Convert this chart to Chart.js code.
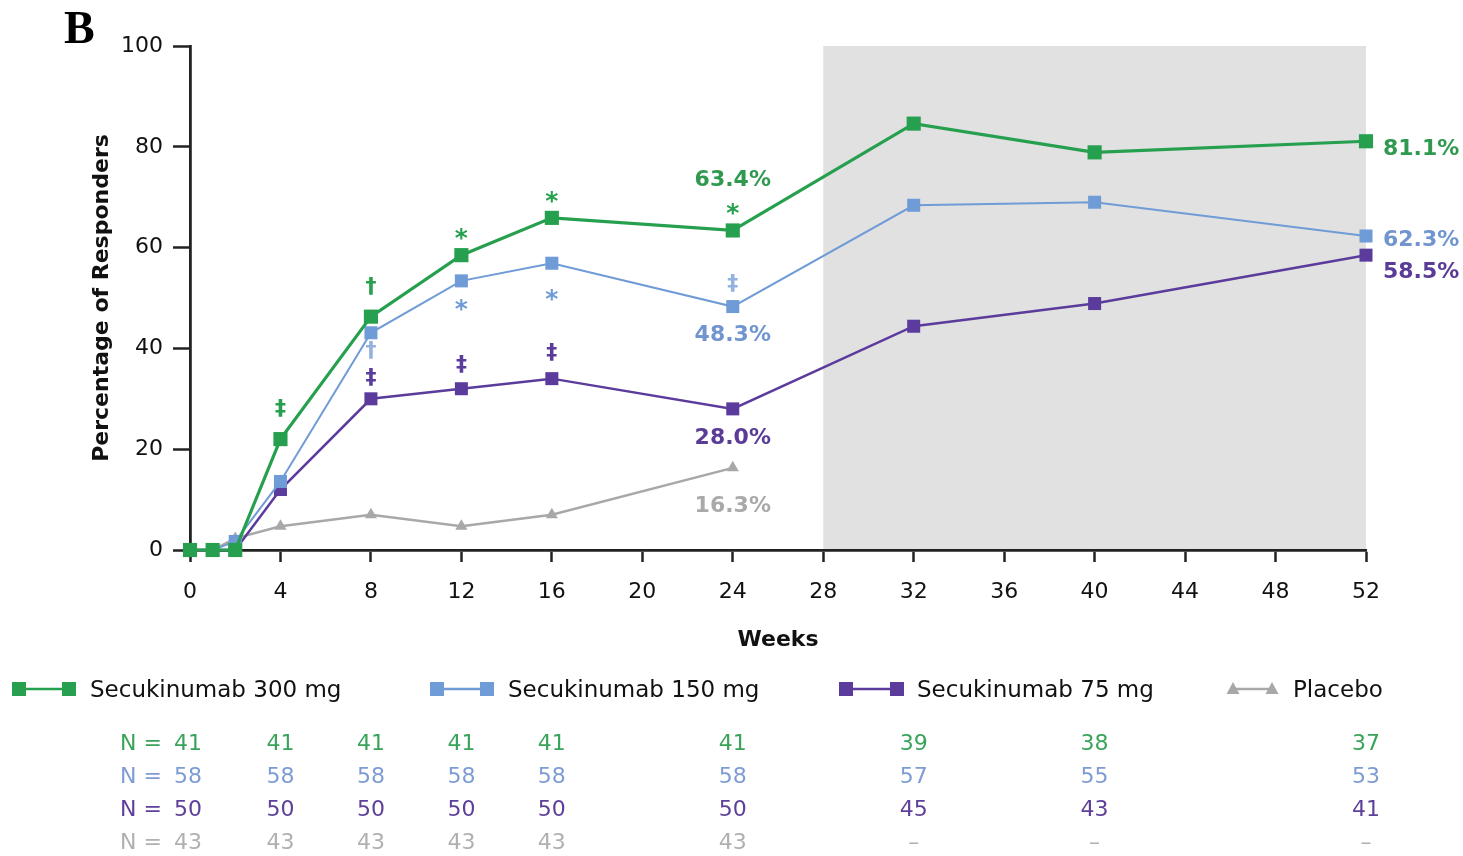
<!DOCTYPE html>
<html>
<head>
<meta charset="utf-8">
<script src="https://cdn.jsdelivr.net/npm/chart.js@4.4.1/dist/chart.umd.min.js"></script>
<style>
  html, body { margin: 0; padding: 0; background: #fff; }
  canvas { display: block; }
</style>
</head>
<body>
<canvas id="chart" width="1463" height="856"></canvas>
<script>
// Visit weeks and response rates (%) per treatment arm
const weeks        = [0, 1, 2, 4, 8, 12, 16, 24, 32, 40, 52];
const placeboWeeks = [0, 1, 2, 4, 8, 12, 16, 24];
const sec300  = [0, 0, 0,   22.0, 46.3, 58.5, 65.9, 63.4, 84.6, 78.9, 81.1];
const sec150  = [0, 0, 1.7, 13.6, 43.1, 53.4, 56.9, 48.3, 68.4, 69.0, 62.3];
const sec75   = [0, 0, 0,   12.0, 30.0, 32.0, 34.0, 28.0, 44.4, 48.9, 58.5];
const placebo = [0, 0, 2.3,  4.7,  7.0,  4.7,  7.0, 16.3];
const seriesNames = ['Secukinumab 300 mg', 'Secukinumab 150 mg', 'Secukinumab 75 mg', 'Placebo'];

// Axis ranges
const weekRange = [0, 52];
const weekStep = 4;
const pctRange = [0, 100];
const pctStep = 20;
const extensionStartWeek = 28;

// Patients at risk per visit
const nWeeks    = [0, 4, 8, 12, 16, 24, 32, 40, 52];
const n300      = [41, 41, 41, 41, 41, 41, 39, 38, 37];
const n150      = [58, 58, 58, 58, 58, 58, 57, 55, 53];
const n75       = [50, 50, 50, 50, 50, 50, 45, 43, 41];
const nPlacebo  = [43, 43, 43, 43, 43, 43, null, null, null];

// Significance marks versus placebo: [series index, week, symbol]
const sigMarks = [
  [0, 4, '‡'], [0, 8, '†'], [1, 8, '†'], [2, 8, '‡'],
  [0, 12, '*'], [1, 12, '*'], [2, 12, '‡'],
  [0, 16, '*'], [1, 16, '*'], [2, 16, '‡'],
  [0, 24, '*'], [1, 24, '‡']
];

const COLORS = ['#26a04e', '#6f9bd6', '#5b3b9c', '#a8a8a8'];
const TEXT_COLORS = ['#2f9a4f', '#7196cf', '#5a3c98', '#a9a9a9'];
const FONT = '"DejaVu Sans", "Liberation Sans", Arial, sans-serif';

const seriesData = [sec300, sec150, sec75, placebo];
const seriesWeeks = [weeks, weeks, weeks, placeboWeeks];

function toPoints(ws, vs) { return ws.map((w, i) => ({ x: w, y: vs[i] })); }

const lineStyles = [
  { borderWidth: 3.2, pointStyle: 'rect',     pointRadius: 10 },
  { borderWidth: 2,   pointStyle: 'rect',     pointRadius: 9.2 },
  { borderWidth: 2.5, pointStyle: 'rect',     pointRadius: 9.2 },
  { borderWidth: 2.5, pointStyle: 'triangle', pointRadius: 7 }
];

const datasets = seriesNames.map((name, i) => ({
  label: name,
  data: toPoints(seriesWeeks[i], seriesData[i]),
  borderColor: COLORS[i],
  backgroundColor: COLORS[i],
  pointBackgroundColor: COLORS[i],
  pointBorderColor: COLORS[i],
  pointBorderWidth: 0,
  borderWidth: lineStyles[i].borderWidth,
  pointStyle: lineStyles[i].pointStyle,
  pointRadius: lineStyles[i].pointRadius,
  pointHoverRadius: lineStyles[i].pointRadius,
  tension: 0,
  clip: false
}));

// text helper: vertically centred on the glyph, not the em box
function text(ctx, str, x, yCenter, font, size, color, align, ratio) {
  ctx.save();
  ctx.font = font.replace('SIZE', size + 'px');
  ctx.fillStyle = color;
  ctx.textAlign = align || 'center';
  ctx.textBaseline = 'alphabetic';
  ctx.fillText(str, x, yCenter + size * (ratio === undefined ? 0.365 : ratio));
  ctx.restore();
}

const backdrop = {
  id: 'backdrop',
  beforeDraw(chart) {
    const { ctx, scales: { x, y } } = chart;
    ctx.save();
    ctx.fillStyle = '#ffffff';
    ctx.fillRect(0, 0, chart.width, chart.height);
    const x1 = x.getPixelForValue(extensionStartWeek);
    const x2 = x.getPixelForValue(weekRange[1]);
    const y1 = y.getPixelForValue(pctRange[1]);
    const y2 = y.getPixelForValue(pctRange[0]);
    ctx.fillStyle = '#e1e1e1';
    ctx.fillRect(x1, y1, x2 - x1, y2 - y1);
    ctx.restore();
  }
};

const decorations = {
  id: 'decorations',
  afterDraw(chart) {
    const { ctx, scales: { x, y } } = chart;
    const px = w => x.getPixelForValue(w);
    const py = v => y.getPixelForValue(v);
    const valueAt = (s, w) => seriesData[s][seriesWeeks[s].indexOf(w)];

    // panel letter
    text(ctx, 'B', 64, 28, 'bold SIZE "Liberation Serif", "Times New Roman", serif', 46, '#000', 'left', 0.33);

    // axis titles
    ctx.save();
    ctx.translate(100, (py(pctRange[0]) + py(pctRange[1])) / 2);
    ctx.rotate(-Math.PI / 2);
    text(ctx, 'Percentage of Responders', 0, 0, 'bold SIZE ' + FONT, 22, '#111', 'center');
    ctx.restore();
    text(ctx, 'Weeks', (px(weekRange[0]) + px(weekRange[1])) / 2, 638, 'bold SIZE ' + FONT, 22, '#111', 'center');

    // significance symbols
    const symOffset = {
      '0|4': -30, '0|8': -30, '1|8': 18, '2|8': -21,
      '0|12': -24, '1|12': 21, '2|12': -24,
      '0|16': -24, '1|16': 29, '2|16': -26,
      '0|24': -24, '1|24': -23
    };
    sigMarks.forEach(([s, w, sym]) => {
      const yc = py(valueAt(s, w)) + symOffset[s + '|' + w];
      if (sym === '*') {
        text(ctx, sym, px(w), yc, 'bold SIZE ' + FONT, 25, COLORS[s], 'center', 0.6);
      } else {
        text(ctx, sym, px(w), yc, 'bold SIZE ' + FONT, 22, s === 1 ? '#93b2de' : COLORS[s], 'center', 0.28);
      }
    });

    // week 24 value labels
    const w24 = [[0, -52], [1, 26], [2, 27], [3, 36]];
    w24.forEach(([s, dy]) => {
      const v = valueAt(s, 24);
      text(ctx, v.toFixed(1) + '%', px(24), py(v) + dy, 'bold SIZE ' + FONT, 22, TEXT_COLORS[s], 'center');
    });
    // week 52 value labels
    const w52 = [[0, 6], [1, 2], [2, 15]];
    w52.forEach(([s, dy]) => {
      const v = valueAt(s, 52);
      text(ctx, v.toFixed(1) + '%', px(52) + 17, py(v) + dy, 'bold SIZE ' + FONT, 22, TEXT_COLORS[s], 'left');
    });

    // legend
    const legend = [
      { x1: 19, x2: 69, tx: 90 },
      { x1: 437, x2: 487, tx: 508 },
      { x1: 846, x2: 897, tx: 917 },
      { x1: 1233, x2: 1272, tx: 1293 }
    ];
    const ly = 689;
    legend.forEach((it, s) => {
      ctx.save();
      ctx.strokeStyle = COLORS[s];
      ctx.fillStyle = COLORS[s];
      ctx.lineWidth = 2.5;
      ctx.beginPath();
      ctx.moveTo(it.x1, ly);
      ctx.lineTo(it.x2, ly);
      ctx.stroke();
      [it.x1, it.x2].forEach(cx => {
        if (s === 3) {
          ctx.beginPath();
          ctx.moveTo(cx, ly - 7);
          ctx.lineTo(cx + 6.5, ly + 5);
          ctx.lineTo(cx - 6.5, ly + 5);
          ctx.closePath();
          ctx.fill();
        } else {
          ctx.fillRect(cx - 7, ly - 7, 14, 14);
        }
      });
      ctx.restore();
      text(ctx, seriesNames[s], it.tx, ly, 'SIZE ' + FONT, 23, '#111', 'left');
    });

    // patients-at-risk table
    const rows = [n300, n150, n75, nPlacebo];
    const rowY = [742, 775, 808, 841];
    rows.forEach((row, r) => {
      const col = ['#3aa35a', '#7d9cd4', '#5e409a', '#b0b0b0'][r];
      text(ctx, 'N =', 162, rowY[r], 'SIZE ' + FONT, 22, col, 'right');
      row.forEach((n, k) => {
        const cx = px(nWeeks[k]) - (k === 0 ? 2 : 0);
        text(ctx, n === null ? '–' : String(n), cx, rowY[r], 'SIZE ' + FONT, 22, col, 'center');
      });
    });
  }
};

new Chart(document.getElementById('chart'), {
  type: 'line',
  data: { datasets },
  options: {
    responsive: false,
    animation: false,
    devicePixelRatio: 1,
    layout: { padding: { left: 0, right: 97, top: 46, bottom: 236 } },
    plugins: { legend: { display: false }, tooltip: { enabled: false } },
    events: [],
    scales: {
      x: {
        type: 'linear',
        min: weekRange[0],
        max: weekRange[1],
        ticks: {
          stepSize: weekStep,
          autoSkip: false,
          maxRotation: 0,
          padding: 17,
          color: '#111',
          font: { family: FONT, size: 22 }
        },
        grid: { display: true, drawOnChartArea: false, drawTicks: true, tickLength: 12, tickColor: '#222', tickWidth: 2.5, color: '#222' },
        border: { display: true, color: '#222', width: 2.8 },
        afterFit(scale) { scale.height = 70; }
      },
      y: {
        min: pctRange[0],
        max: pctRange[1],
        ticks: {
          stepSize: pctStep,
          padding: 10,
          color: '#111',
          font: { family: FONT, size: 22 }
        },
        grid: { display: true, drawOnChartArea: false, drawTicks: true, tickLength: 17, tickColor: '#222', tickWidth: 2.5, color: '#222' },
        border: { display: true, color: '#222', width: 2.8 },
        afterFit(scale) { scale.width = 190; }
      }
    }
  },
  plugins: [backdrop, decorations]
});
</script>
</body>
</html>
